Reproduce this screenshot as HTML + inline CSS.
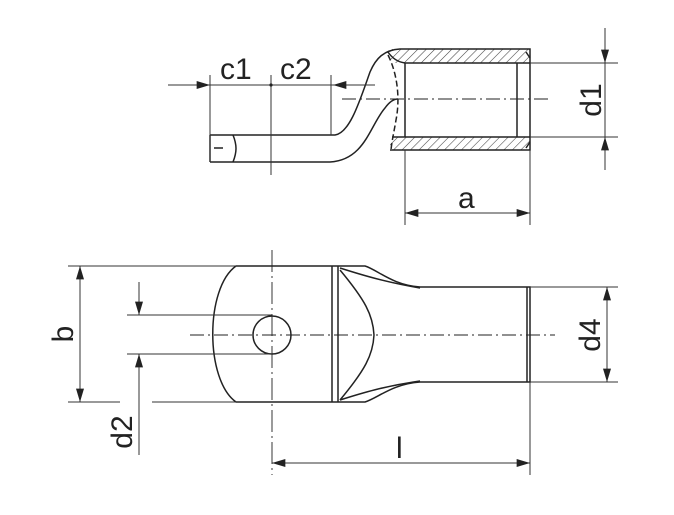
<!DOCTYPE html>
<html><head><meta charset="utf-8"><style>html,body{margin:0;padding:0;background:#fff}svg{display:block}</style></head>
<body>
<svg width="674" height="515" viewBox="0 0 674 515" xmlns="http://www.w3.org/2000/svg">
<defs>
<pattern id="h" width="6" height="6" patternUnits="userSpaceOnUse" patternTransform="rotate(45)">
<line x1="0" y1="0" x2="0" y2="6" stroke="#444" stroke-width="1.1"/></pattern>
<marker id="ar" viewBox="0 0 10 6" refX="10" refY="3" markerWidth="18" markerHeight="8" markerUnits="userSpaceOnUse" orient="auto-start-reverse"><path d="M0,0L10,3L0,6z" fill="#222"/></marker>
</defs>
<g fill="none" stroke="#222" stroke-width="1.5">
<rect x="390" y="49" width="140" height="14" fill="url(#h)" stroke="none"/>
<rect x="390" y="137" width="140" height="13" fill="url(#h)" stroke="none"/>
<path d="M210,135 H335 C350,133 360,100 370,72 C376,58 384,50 400,49 H530 V150 H390"/>
<path d="M210,162 H330 C365,160 370,125 385,108 C390,101 394,99 398,99"/>
<path d="M388,52 C392,58 398,62 405,63 H530 M392,137 H530"/>
<path d="M388,55 C398,75 400,100 396,120 C394,132 392,140 391,150" stroke-dasharray="6,3"/>
<path d="M405,63 V137 M517,63 V137 M526,52 L530,58 M526,148 L530,142"/>
<path d="M210,135 V162 M233,135 C237,145 237,152 233,162 M214,148 H223"/>
<path d="M342,99 H548" stroke-width="0.9" stroke-dasharray="14,4,2,4"/>
<path d="M236,266 H365 C378,270 392,285 420,287 H530 V382 H420 C392,384 378,398 365,402 H236 C205,380 205,288 236,266 Z"/>
<path d="M332,266 V402 M338,266 V402 M527,287 V382"/>
<path d="M340,268 C362,275 385,282 420,288 M340,400 C362,393 385,386 420,381"/>
<path d="M340,270 C365,300 373,315 374,335 C373,355 365,370 340,400"/>
<circle cx="272" cy="335" r="19"/>
<path d="M190,335 H555" stroke-width="0.9" stroke-dasharray="14,4,2,4"/>
<path d="M272,250 V475" stroke-width="0.9" stroke-dasharray="22,4,2,4"/>
</g>
<g fill="none" stroke="#333" stroke-width="1">
<path d="M168,85 H210" marker-end="url(#ar)"/>
<path d="M210,85 H375"/>
<path d="M375,85 H333" marker-end="url(#ar)"/>
<path d="M210,75 V162 M271,75 V175 M331,75 V135"/>
<path d="M530,63 H618 M530,137 H618"/>
<path d="M605,28 V63" marker-end="url(#ar)"/>
<path d="M605,170 V137" marker-end="url(#ar)"/>
<path d="M605,63 V137"/>
<path d="M405,150 V225 M530,150 V225"/>
<path d="M405,213 H530" marker-start="url(#ar)" marker-end="url(#ar)"/>
<path d="M68,266 H236 M68,402 H120 M152,402 H236"/>
<path d="M80,266 V402" marker-start="url(#ar)" marker-end="url(#ar)"/>
<path d="M127,315 H272 M127,354 H272"/>
<path d="M139,282 V315" marker-end="url(#ar)"/>
<path d="M139,455 V354" marker-end="url(#ar)"/>
<path d="M530,287 H618 M530,382 H618"/>
<path d="M607,287 V382" marker-start="url(#ar)" marker-end="url(#ar)"/>
<path d="M530,382 V475"/>
<path d="M272,463 H530" marker-start="url(#ar)" marker-end="url(#ar)"/>
</g>
<circle cx="271" cy="85" r="1.6" fill="#222"/>
<g font-family="Liberation Sans, sans-serif" font-size="30" fill="#222">
<text x="220" y="79">c1</text>
<text x="280" y="79">c2</text>
<text x="458" y="208">a</text>
<text x="396" y="458">l</text>
<text transform="translate(601,100) rotate(-90)" text-anchor="middle">d1</text>
<text transform="translate(73,334) rotate(-90)" text-anchor="middle">b</text>
<text transform="translate(132,432) rotate(-90)" text-anchor="middle">d2</text>
<text transform="translate(600,335) rotate(-90)" text-anchor="middle">d4</text>
</g>
</svg>
</body></html>
